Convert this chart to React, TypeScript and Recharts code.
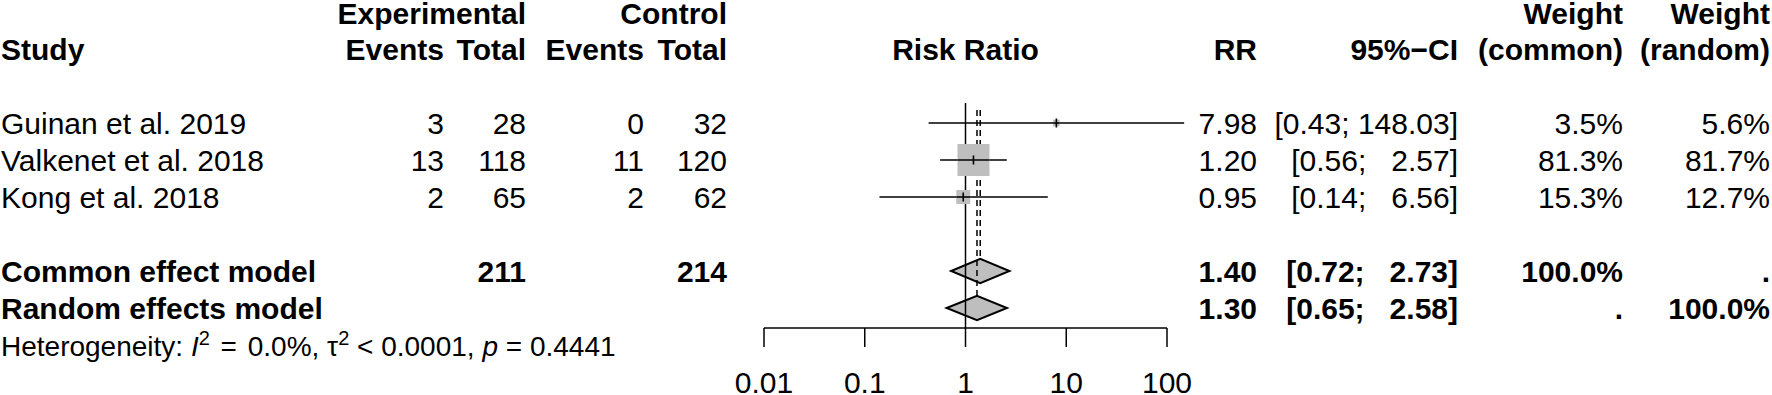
import React from "react";
import {
  ComposedChart,
  XAxis,
  YAxis,
  Scatter,
  ReferenceLine,
  ReferenceArea,
  Customized,
} from "recharts";

// study data
const studyNames = ["Guinan et al. 2019", "Valkenet et al. 2018", "Kong et al. 2018"];
const expEvents = [3, 13, 2];
const expTotal = [28, 118, 65];
const ctrlEvents = [0, 11, 2];
const ctrlTotal = [32, 120, 62];
const studyRR = [7.98, 1.2, 0.95];
const studyLower = [0.43, 0.56, 0.14];
const studyUpper = [148.03, 2.57, 6.56];
const weightCommon = [3.5, 81.3, 15.3];
const weightRandom = [5.6, 81.7, 12.7];

// pooled estimates
const modelNames = ["Common effect model", "Random effects model"];
const modelRR = [1.4, 1.3];
const modelLower = [0.72, 0.65];
const modelUpper = [2.73, 2.58];
const modelWeightCommon = ["100.0%", "."];
const modelWeightRandom = [".", "100.0%"];
const totalExp = 211;
const totalCtrl = 214;

const axisTicks = [0.01, 0.1, 1, 10, 100];

// layout
const W = 1772;
const H = 395;
const PLOT_LEFT = 764;
const PLOT_RIGHT = 1167;
const ROW0 = 123; // centre of first study row
const ROW_H = 37;
const AXIS_Y = 328;
const AXIS_ROW = (AXIS_Y - ROW0) / ROW_H;
const FONT = "'Liberation Sans', Arial, Helvetica, sans-serif";
const FS = 30;
const GREY = "#bebebe";
const MAX_SIDE = 32;
const DIAMOND_H = 0.33;

const studyRows = [0, 1, 2];
const modelRows = [4, 5];

const fmtCI = (lo: number, hi: number) => `[${lo.toFixed(2)}; ${hi.toFixed(2).padStart(6)}]`;

const studyPoints = studyNames.map((_, i) => ({
  x: studyRR[i],
  y: studyRows[i],
  w: weightCommon[i],
}));
const maxW = Math.max(...weightCommon);

const StudySquare = (props: any) => {
  const { cx, cy, payload } = props;
  const s = MAX_SIDE * Math.sqrt(payload.w / maxW);
  return (
    <g>
      <rect x={cx - s / 2} y={cy - s / 2} width={s} height={s} fill={GREY} />
      <line x1={cx - s / 2} x2={cx + s / 2} y1={cy} y2={cy} stroke="#000" strokeWidth={1.6} />
      <line x1={cx} x2={cx} y1={cy - 4.5} y2={cy + 4.5} stroke="#000" strokeWidth={1.6} />
    </g>
  );
};

const diamondShape = (est: number, lo: number, hi: number) => (p: any) => {
  const { x, y, width, height } = p;
  const frac = (Math.log(est) - Math.log(lo)) / (Math.log(hi) - Math.log(lo));
  const tx = x + width * frac;
  const cy = y + height / 2;
  return (
    <polygon
      points={`${x},${cy} ${tx},${y} ${x + width},${cy} ${tx},${y + height}`}
      fill={GREY}
      stroke="#000"
      strokeWidth={2}
    />
  );
};

const baseline = (row: number) => ROW0 + ROW_H * row + 10.5;

const T = ({ x, row, anchor = "end", bold = false, dy = 0, children }: any) => (
  <text
    x={x}
    y={baseline(row) + dy}
    textAnchor={anchor}
    fontFamily={FONT}
    fontSize={FS}
    fontWeight={bold ? "bold" : "normal"}
    fill="#000"
    xmlSpace="preserve"
    style={{ whiteSpace: "pre" }}
  >
    {children}
  </text>
);

const col = {
  label: 1,
  expEv: 444,
  expTot: 526,
  ctrlEv: 644,
  ctrlTot: 727,
  rr: 1257,
  ci: 1458,
  wc: 1623,
  wr: 1770,
};

const HFS = 28;

const TableText = () => (
  <g>
    {/* header */}
    <T x={col.expTot} row={-3} dy={1.5} bold>Experimental</T>
    <T x={col.ctrlTot} row={-3} dy={1.5} bold>Control</T>
    <T x={col.wc} row={-3} dy={1.5} bold>Weight</T>
    <T x={col.wr} row={-3} dy={1.5} bold>Weight</T>
    <T x={col.label} row={-2} anchor="start" bold>Study</T>
    <T x={col.expEv} row={-2} bold>Events</T>
    <T x={col.expTot} row={-2} bold>Total</T>
    <T x={col.ctrlEv} row={-2} bold>Events</T>
    <T x={col.ctrlTot} row={-2} bold>Total</T>
    <T x={(PLOT_LEFT + PLOT_RIGHT) / 2} row={-2} anchor="middle" bold>Risk Ratio</T>
    <T x={col.rr} row={-2} bold>RR</T>
    <T x={col.ci} row={-2} bold>95%−CI</T>
    <T x={col.wc} row={-2} bold>(common)</T>
    <T x={col.wr} row={-2} bold>(random)</T>

    {studyNames.map((name, i) => (
      <g key={name}>
        <T x={col.label} row={studyRows[i]} anchor="start">{name}</T>
        <T x={col.expEv} row={studyRows[i]}>{expEvents[i]}</T>
        <T x={col.expTot} row={studyRows[i]}>{expTotal[i]}</T>
        <T x={col.ctrlEv} row={studyRows[i]}>{ctrlEvents[i]}</T>
        <T x={col.ctrlTot} row={studyRows[i]}>{ctrlTotal[i]}</T>
        <T x={col.rr} row={studyRows[i]}>{studyRR[i].toFixed(2)}</T>
        <T x={col.ci} row={studyRows[i]}>{fmtCI(studyLower[i], studyUpper[i])}</T>
        <T x={col.wc} row={studyRows[i]}>{weightCommon[i].toFixed(1)}%</T>
        <T x={col.wr} row={studyRows[i]}>{weightRandom[i].toFixed(1)}%</T>
      </g>
    ))}

    {modelNames.map((name, i) => (
      <g key={name}>
        <T x={col.label} row={modelRows[i]} anchor="start" bold>{name}</T>
        {i === 0 && <T x={col.expTot} row={modelRows[i]} bold>{totalExp}</T>}
        {i === 0 && <T x={col.ctrlTot} row={modelRows[i]} bold>{totalCtrl}</T>}
        <T x={col.rr} row={modelRows[i]} bold>{modelRR[i].toFixed(2)}</T>
        <T x={col.ci} row={modelRows[i]} bold>{fmtCI(modelLower[i], modelUpper[i])}</T>
        <T x={col.wc} row={modelRows[i]} bold>{modelWeightCommon[i]}</T>
        <T x={col.wr} row={modelRows[i]} bold>{modelWeightRandom[i]}</T>
      </g>
    ))}

    <text x={col.label} y={baseline(6)} fontFamily={FONT} fontSize={HFS} fill="#000" xmlSpace="preserve" style={{ whiteSpace: "pre" }}>
      {"Heterogeneity: "}
      <tspan fontStyle="italic">I</tspan>
      <tspan fontSize={20} dy={-11}>2</tspan>
      <tspan dy={11} dx={3}>{" ="}</tspan>
      <tspan dx={3}>{" 0.0%, τ"}</tspan>
      <tspan fontSize={20} dy={-11}>2</tspan>
      <tspan dy={11}>{" < 0.0001, "}</tspan>
      <tspan fontStyle="italic">p</tspan>
      <tspan>{" = 0.4441"}</tspan>
    </text>
  </g>
);

export default function App() {
  return (
    <div style={{ position: "absolute", left: 0, top: 0, width: W, height: H, background: "#fff" }}>
      <ComposedChart
        width={W}
        height={H}
        margin={{ top: ROW0 - 3 * ROW_H, right: W - PLOT_RIGHT, bottom: H - AXIS_Y - 60, left: PLOT_LEFT }}
      >
        <XAxis
          type="number"
          dataKey="x"
          scale="log"
          domain={[0.01, 100]}
          ticks={axisTicks}
          interval={0}
          allowDataOverflow
          height={60}
          tickSize={19}
          tickMargin={25}
          axisLine={{ stroke: "#000", strokeWidth: 1.5 }}
          tickLine={{ stroke: "#000", strokeWidth: 1.5 }}
          tick={{ fontSize: FS, fill: "#000", fontFamily: FONT }}
          tickFormatter={(v: number) => String(v)}
        />
        <YAxis type="number" dataKey="y" hide reversed domain={[-3, AXIS_ROW]} allowDataOverflow />

        {/* line of no effect */}
        <ReferenceLine
          segment={[{ x: 1, y: -0.54 }, { x: 1, y: AXIS_ROW }]}
          stroke="#000"
          strokeWidth={1.5}
          ifOverflow="visible"
        />
        {/* pooled estimates */}
        {modelRR.map((est, i) => (
          <ReferenceLine
            key={`d${i}`}
            segment={[{ x: est, y: -0.35 }, { x: est, y: modelRows[i] - DIAMOND_H }]}
            stroke="#000"
            strokeWidth={1.5}
            strokeDasharray="6 4"
            ifOverflow="visible"
          />
        ))}

        <Scatter data={studyPoints} shape={StudySquare} isAnimationActive={false} />

        {studyRows.map((r, i) => (
          <ReferenceLine
            key={`ci${i}`}
            segment={[{ x: studyLower[i], y: r }, { x: studyUpper[i], y: r }]}
            stroke="#000"
            strokeWidth={1.6}
            ifOverflow="visible"
          />
        ))}

        {modelRows.map((r, i) => (
          <ReferenceArea
            key={`m${i}`}
            x1={modelLower[i]}
            x2={modelUpper[i]}
            y1={r - DIAMOND_H}
            y2={r + DIAMOND_H}
            ifOverflow="visible"
            shape={diamondShape(modelRR[i], modelLower[i], modelUpper[i])}
          />
        ))}

        <Customized component={TableText} />
      </ComposedChart>
    </div>
  );
}
